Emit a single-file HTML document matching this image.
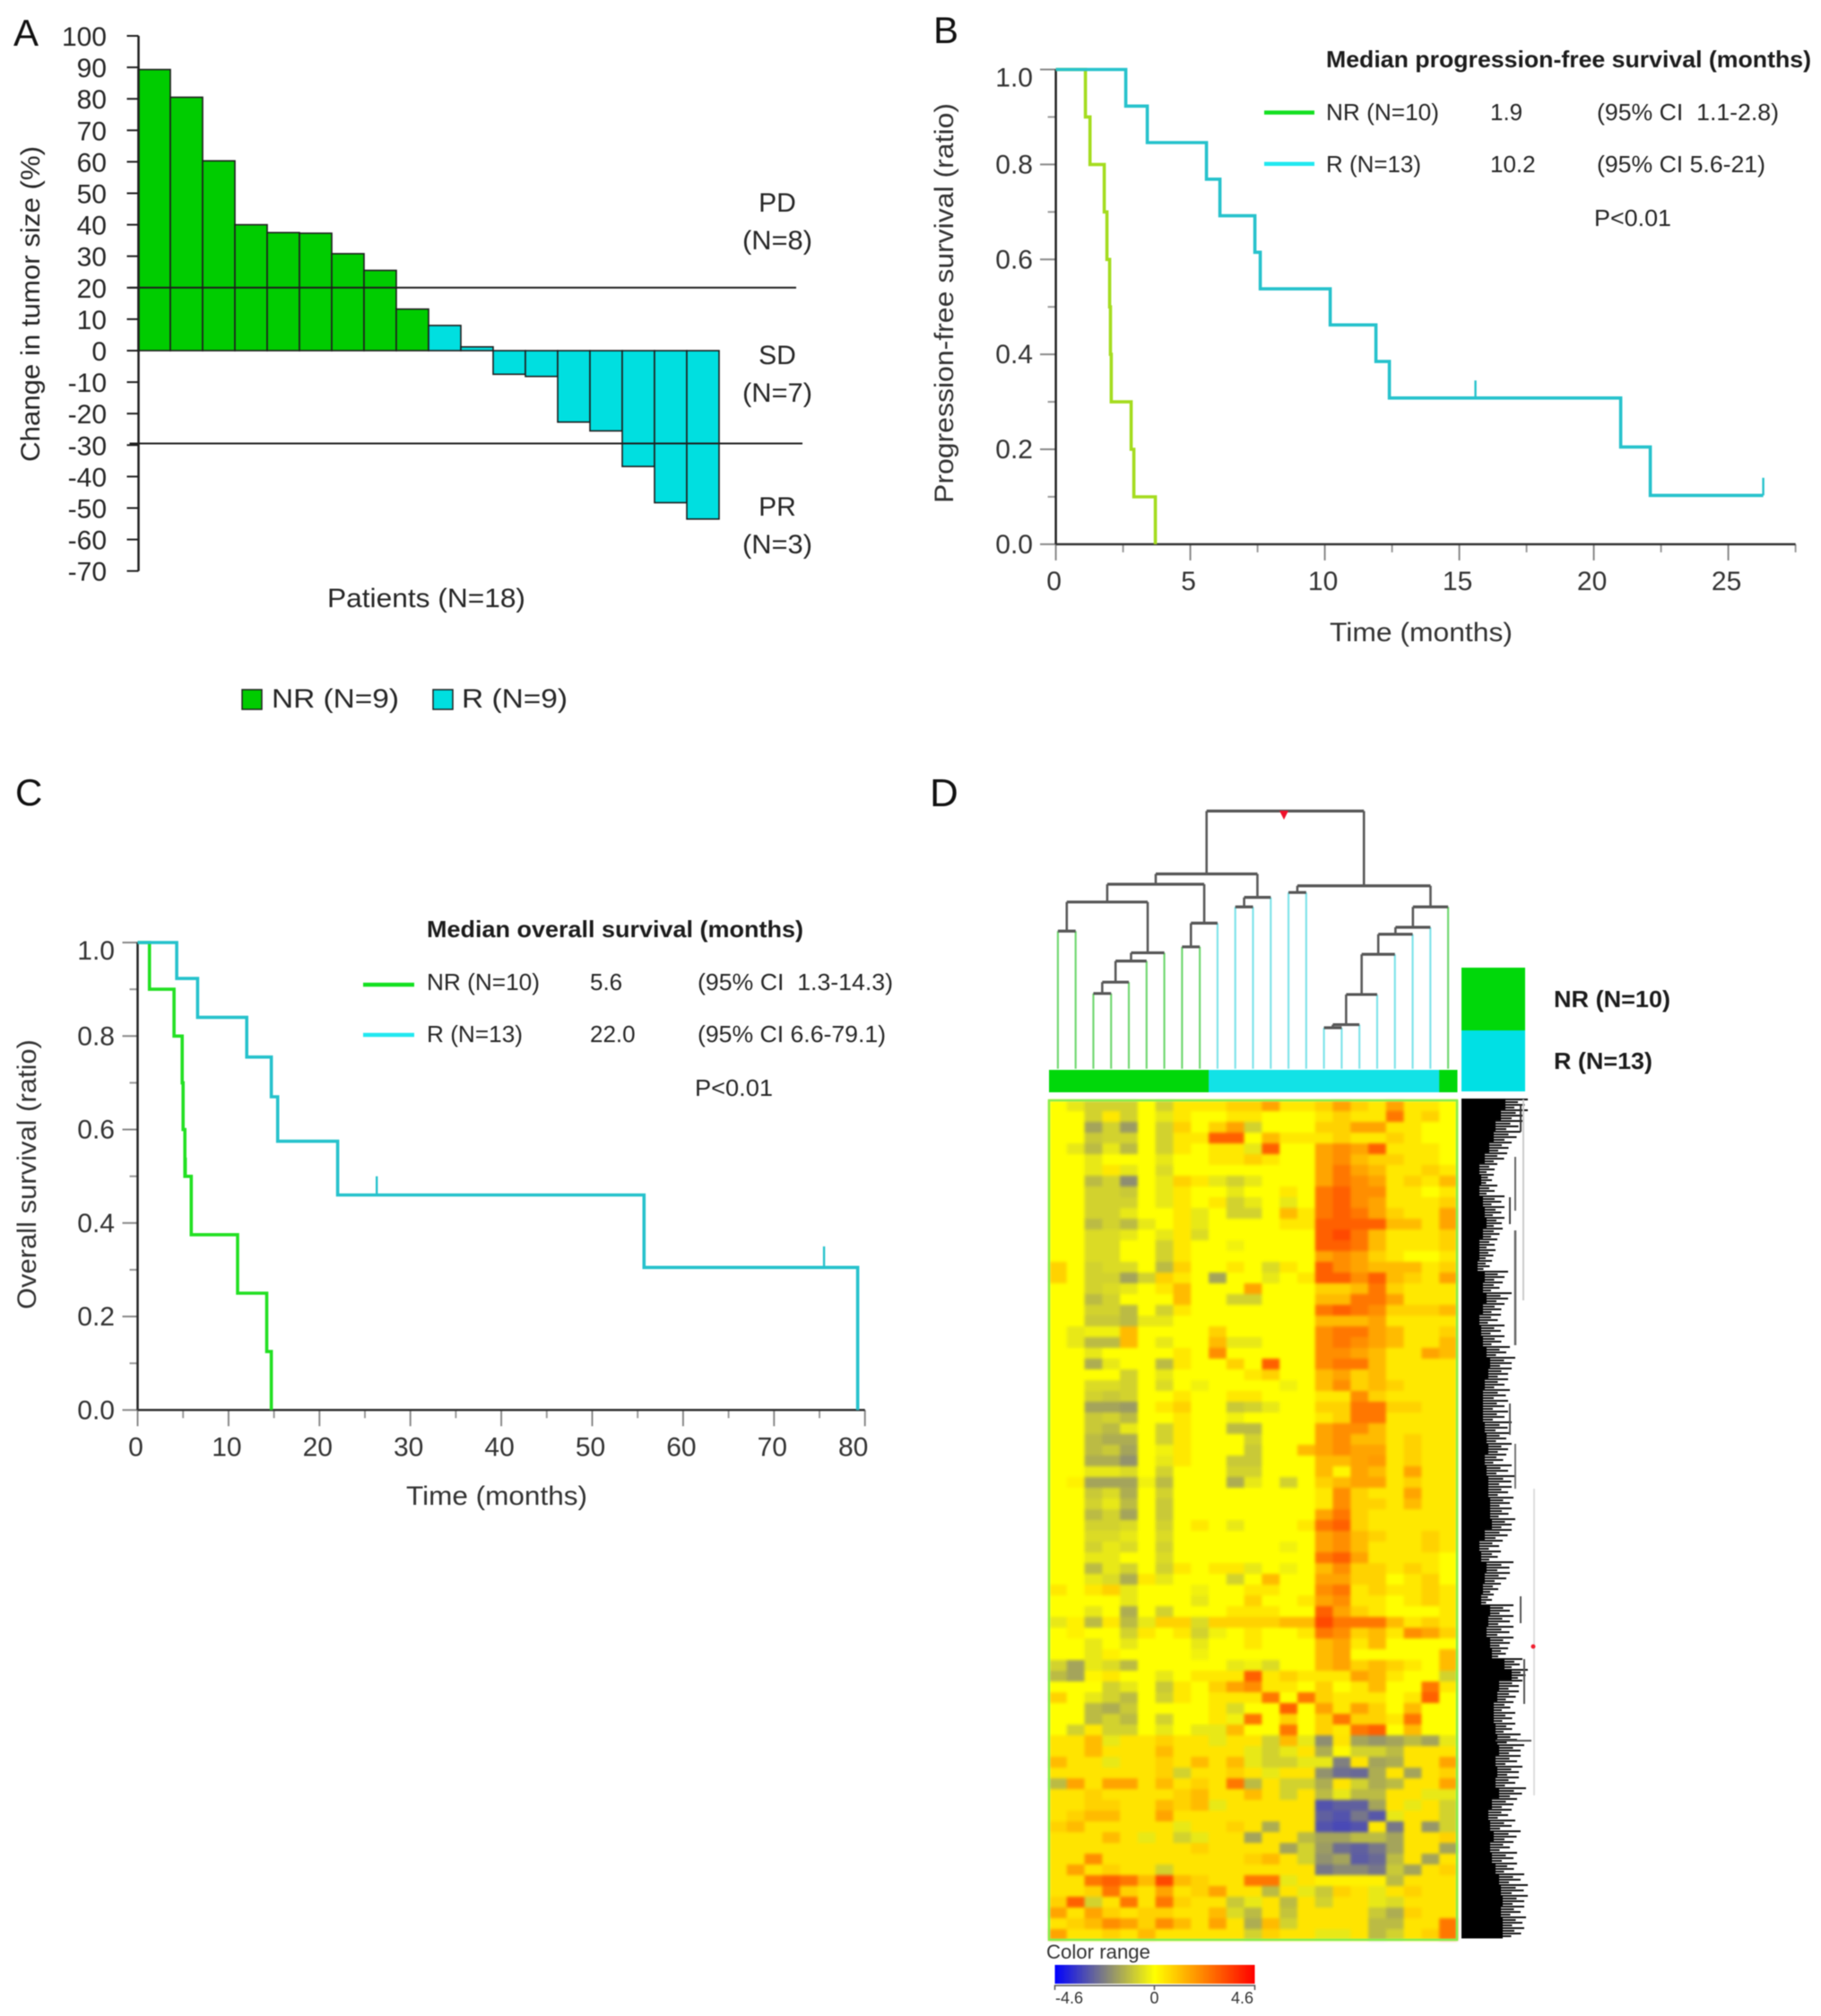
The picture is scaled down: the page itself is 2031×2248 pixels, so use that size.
<!DOCTYPE html>
<html lang="en">
<head>
<meta charset="utf-8">
<title>Tumor response, survival and expression heatmap</title>
<style>
html,body{margin:0;padding:0;background:#fff;width:2031px;height:2248px;overflow:hidden}
svg{display:block;filter:blur(.6px)}
text{font-family:"Liberation Sans",sans-serif;fill:#262626}
.t30{font-size:30px}
.t26{font-size:26px}
.lab{font-size:30px;fill:#333}
.b{font-weight:bold;font-size:26px;fill:#1c1c1c}
.letter{font-size:42px;fill:#111}
#heat{filter:blur(1.5px)}
</style>
</head>
<body>
<svg id="fig" xmlns="http://www.w3.org/2000/svg" width="2031" height="2248" viewBox="0 0 2031 2248">
  <rect width="2031" height="2248" fill="#fff"/>

  <g id="panelA">
    <text class="letter" x="15" y="51">A</text>
    <text class="t30" transform="translate(44,515) rotate(-90)" textLength="352" lengthAdjust="spacingAndGlyphs">Change in tumor size (%)</text>
    <text class="t30" x="365" y="677" textLength="221" lengthAdjust="spacingAndGlyphs">Patients (N=18)</text>
    <text class="t30" x="867" y="236" text-anchor="middle">PD</text>
    <text class="t30" x="867" y="278" text-anchor="middle" textLength="78" lengthAdjust="spacingAndGlyphs">(N=8)</text>
    <text class="t30" x="867" y="406" text-anchor="middle">SD</text>
    <text class="t30" x="867" y="448" text-anchor="middle" textLength="78" lengthAdjust="spacingAndGlyphs">(N=7)</text>
    <text class="t30" x="867" y="575" text-anchor="middle">PR</text>
    <text class="t30" x="867" y="617" text-anchor="middle" textLength="78" lengthAdjust="spacingAndGlyphs">(N=3)</text>
    <rect x="270" y="769" width="22" height="22" fill="#00cc00" stroke="#222" stroke-width="1.5"/>
    <text class="t30" x="303" y="789" textLength="142" lengthAdjust="spacingAndGlyphs">NR (N=9)</text>
    <rect x="483" y="769" width="22" height="22" fill="#00dfe0" stroke="#222" stroke-width="1.5"/>
    <text class="t30" x="515" y="789" textLength="118" lengthAdjust="spacingAndGlyphs">R (N=9)</text>
  </g>

  <g id="panelB">
    <text class="letter" x="1041" y="48">B</text>
    <text class="lab" transform="translate(1063,561) rotate(-90)" textLength="446" lengthAdjust="spacingAndGlyphs">Progression-free survival (ratio)</text>
    <text class="lab" x="1483" y="715" textLength="204" lengthAdjust="spacingAndGlyphs">Time (months)</text>
    <text class="b" x="1479" y="75" textLength="541" lengthAdjust="spacingAndGlyphs">Median progression-free survival (months)</text>
    <line x1="1410" x2="1466" y1="125.5" y2="125.5" stroke="#12e020" stroke-width="4.5"/>
    <text class="t26" x="1479" y="134" textLength="126" lengthAdjust="spacingAndGlyphs">NR (N=10)</text>
    <text class="t26" x="1662" y="134">1.9</text>
    <text class="t26" x="1781" y="134" textLength="203" lengthAdjust="spacingAndGlyphs" xml:space="preserve">(95% CI  1.1-2.8)</text>
    <line x1="1410" x2="1466" y1="182.7" y2="182.7" stroke="#20e8f0" stroke-width="4.5"/>
    <text class="t26" x="1479" y="192" textLength="106" lengthAdjust="spacingAndGlyphs">R (N=13)</text>
    <text class="t26" x="1662" y="192">10.2</text>
    <text class="t26" x="1781" y="192" textLength="188" lengthAdjust="spacingAndGlyphs">(95% CI 5.6-21)</text>
    <text class="t26" x="1778" y="252" textLength="86" lengthAdjust="spacingAndGlyphs">P&lt;0.01</text>
  </g>

  <g id="panelC">
    <text class="letter" x="17" y="898">C</text>
    <text class="lab" transform="translate(40,1460) rotate(-90)" textLength="301" lengthAdjust="spacingAndGlyphs">Overall survival (ratio)</text>
    <text class="lab" x="453" y="1678" textLength="202" lengthAdjust="spacingAndGlyphs">Time (months)</text>
    <text class="b" x="476" y="1045" textLength="420" lengthAdjust="spacingAndGlyphs">Median overall survival (months)</text>
    <line x1="405" x2="462" y1="1098" y2="1098" stroke="#12e020" stroke-width="4.5"/>
    <text class="t26" x="476" y="1104" textLength="126" lengthAdjust="spacingAndGlyphs">NR (N=10)</text>
    <text class="t26" x="658" y="1104">5.6</text>
    <text class="t26" x="778" y="1104" textLength="218" lengthAdjust="spacingAndGlyphs" xml:space="preserve">(95% CI  1.3-14.3)</text>
    <line x1="405" x2="462" y1="1154" y2="1154" stroke="#20e8f0" stroke-width="4.5"/>
    <text class="t26" x="476" y="1162" textLength="107" lengthAdjust="spacingAndGlyphs">R (N=13)</text>
    <text class="t26" x="658" y="1162">22.0</text>
    <text class="t26" x="778" y="1162" textLength="210" lengthAdjust="spacingAndGlyphs">(95% CI 6.6-79.1)</text>
    <text class="t26" x="775" y="1222" textLength="87" lengthAdjust="spacingAndGlyphs">P&lt;0.01</text>
  </g>

  <g id="panelD">
    <text class="letter" x="1037" y="899" style="font-size:44px">D</text>
    <g id="colTree"></g>
    <polygon points="1427,904 1437,904 1432,914" fill="#f0102a"/>
    <g id="classBar"></g>
    <rect x="1630" y="1079" width="71" height="70" fill="#00d80a"/>
    <rect x="1630" y="1149" width="71" height="68" fill="#00e0e4"/>
    <text class="b" x="1733" y="1123" textLength="130" lengthAdjust="spacingAndGlyphs">NR (N=10)</text>
    <text class="b" x="1733" y="1192" textLength="110" lengthAdjust="spacingAndGlyphs">R (N=13)</text>
    <g id="heat"></g>
    <rect x="1170" y="1227" width="455" height="936" fill="none" stroke="#86ee4a" stroke-width="2.5"/>
    <g id="rowTree" shape-rendering="crispEdges"></g>
    <g fill="none">
      <line x1="1699" x2="1699" y1="1226" y2="1450" stroke="#ccc" stroke-width="2"/>
      <line x1="1711" x2="1711" y1="1660" y2="2002" stroke="#ddd" stroke-width="2"/>
      <line x1="1696" x2="1696" y1="1232" y2="1262" stroke="#333" stroke-width="2"/>
      <line x1="1690" x2="1690" y1="1290" y2="1350" stroke="#666" stroke-width="2"/>
      <line x1="1684" x2="1684" y1="1335" y2="1365" stroke="#444" stroke-width="2"/>
      <line x1="1690" x2="1690" y1="1372" y2="1500" stroke="#666" stroke-width="2.5"/>
      <line x1="1684" x2="1684" y1="1565" y2="1600" stroke="#555" stroke-width="2"/>
      <line x1="1690" x2="1690" y1="1610" y2="1660" stroke="#777" stroke-width="2"/>
      <line x1="1696" x2="1696" y1="1780" y2="1810" stroke="#555" stroke-width="2"/>
      <line x1="1700" x2="1700" y1="1850" y2="1900" stroke="#555" stroke-width="2"/>
      <line x1="1668" x2="1708" y1="1941" y2="1941" stroke="#555" stroke-width="2"/>
      <circle cx="1710" cy="1836" r="2.5" fill="#f02030"/>
    </g>
    <defs>
      <linearGradient id="heatGrad" x1="0" x2="1" y1="0" y2="0">
        <stop offset="0" stop-color="#0000ff"/>
        <stop offset=".25" stop-color="#808080"/>
        <stop offset=".5" stop-color="#ffff00"/>
        <stop offset=".75" stop-color="#ff8000"/>
        <stop offset="1" stop-color="#ff0000"/>
      </linearGradient>
    </defs>
    <text x="1167" y="2184" style="font-size:22px;fill:#333" textLength="116" lengthAdjust="spacingAndGlyphs">Color range</text>
    <rect x="1176.5" y="2191" width="223" height="21" fill="url(#heatGrad)"/>
    <path d="M1176.5 2219V2214H1399.5V2219M1287.5 2214V2219" fill="none" stroke="#555" stroke-width="1.5"/>
    <text x="1177" y="2234" style="font-size:18px;fill:#333">-4.6</text>
    <text x="1287.5" y="2234" text-anchor="middle" style="font-size:18px;fill:#333">0</text>
    <text x="1398" y="2234" text-anchor="end" style="font-size:18px;fill:#333">4.6</text>
  </g>
</svg>

<script>
/* ---------- Panel A data ---------- */
const waterfallValues = [89.3,80.5,60.3,40,37.5,37.3,30.8,25.5,13.2,8,1.2,-7.5,-8.2,-22.7,-25.5,-36.8,-48.3,-53.5];
const waterfallGroups = ['NR','NR','NR','NR','NR','NR','NR','NR','NR','R','R','R','R','R','R','R','R','R'];
const waterfallTicks = [100,90,80,70,60,50,40,30,20,10,0,-10,-20,-30,-40,-50,-60,-70];
const thresholdValues = [20,-29.5];

/* ---------- Panel B data ---------- */
const prfNrTimes = [1.1,1.27,1.8,1.9,2.0,2.03,2.06,2.8,2.9,3.7];
const prfNrSurv = [0.9,0.8,0.7,0.6,0.5,0.4,0.3,0.2,0.1,0];
const prfRTimes = [2.6,3.4,5.6,6.1,7.4,7.6,10.2,11.9,12.4,21,22.1,26.3];
const prfRSurv = [0.923,0.846,0.769,0.692,0.615,0.538,0.462,0.385,0.308,0.205,0.103,0.103];
const prfCensorTimes = [15.6,26.3];
const prfCensorLow = [0.308,0.103];
const prfCensorHigh = [0.345,0.14];
const prfXTicks = [0,5,10,15,20,25];

/* ---------- Panel C data ---------- */
const osNrTimes = [1.3,4,4.9,5,5.2,5.9,11,14.2,14.7];
const osNrSurv = [0.9,0.8,0.7,0.6,0.5,0.375,0.25,0.125,0];
const osRTimes = [4.3,6.6,12,14.7,15.4,22,55.7,79.2];
const osRSurv = [0.923,0.84,0.755,0.67,0.575,0.46,0.305,0];
const osCensorTimes = [26.3,75.5];
const osCensorLow = [0.46,0.305];
const osCensorHigh = [0.5,0.35];
const osNrCensorTimes = [5.3];
const osNrCensorLow = [0.5];
const osNrCensorHigh = [0.54];
const osXTicks = [0,10,20,30,40,50,60,70,80];
const survivalTicks = [0,0.2,0.4,0.6,0.8,1];

/* ---------- Panel D data ---------- */
const sampleClasses = ['NR','NR','NR','NR','NR','NR','NR','NR','NR','R','R','R','R','R','R','R','R','R','R','R','R','R','NR'];
/* merge = [childA, childB, height]; children 0-22 are leaves, 23+ are earlier merges */
const treeMerges = [
 [0,1,0.534],[2,3,0.292],[24,4,0.336],[25,5,0.418],[26,6,0.45],[23,27,0.647],
 [7,8,0.473],[29,9,0.565],[28,30,0.716],[10,11,0.628],[32,12,0.665],[31,33,0.756],
 [13,14,0.684],[15,16,0.159],[36,17,0.171],[37,18,0.288],[38,19,0.444],[39,20,0.522],
 [40,21,0.549],[41,22,0.628],[35,42,0.71],[34,43,1]
];
const heatValues = [
[0,-.5,-1,-1,-1,0,-1,.5,.5,.5,1,1,2,.5,.5,1,2,1,.5,2,.5,.5,0],
[0,0,-1,.5,-1,0,-.5,.5,0,0,.5,.5,0,0,0,.5,1,.5,.5,3,.5,1,0],
[0,0,-2,-1,-2.2,0,-1,1,0,1,2,-1,0,0,0,1,1,2,2,.5,.5,0,0],
[0,0,-1.2,-1,-1,0,-1,.5,.5,3.5,3.5,0,1.5,.5,.5,.5,1,.5,.5,1,.5,0,0],
[0,-.5,-1.5,-.5,-1.5,0,-1,.5,0,.5,.5,-.5,3.5,0,0,2,2.5,2,3.5,.5,.5,.5,0],
[0,0,-.5,0,0,0,-.5,0,0,.5,.5,1,.5,0,0,2,2.5,1.5,1,1,.5,.5,0],
[0,0,-.5,.5,-.5,0,-.8,0,0,0,0,0,0,0,0,2,3,2,1.5,.5,.5,1,.5],
[0,0,-1.5,-1,-2.5,0,-.5,1,.5,-.5,-1,-.5,0,0,0,2,3,2.5,2,.5,1,.5,1.5],
[0,0,-1,-1,-1.2,0,-.5,.5,0,0,-.5,0,0,.5,0,3,3.5,2.5,2.5,.5,.5,0,.5],
[0,0,-1,-1,-1,0,-.5,.5,0,.5,-1,-.5,0,-.5,0,3,3.5,2.5,2,.5,.5,.5,1],
[0,0,-1,-1,-.5,0,0,.5,-.5,0,-1,-1,0,1.5,.5,3,3.5,3,2,1,.5,.5,2],
[0,0,-1.5,-1,-1.5,-.5,0,.5,-.5,0,0,0,0,.5,.5,3.5,3.5,3.5,3.5,1.5,1.5,.5,2],
[0,0,-.8,-.8,-.5,0,-.5,.5,-.8,0,0,0,0,0,0,3.5,4,3,1.5,.5,.5,.5,1],
[0,0,-.8,-.8,0,0,-1,.5,0,0,-.3,0,0,0,0,3.5,3.5,3,1.5,.5,.5,.5,1],
[0,0,-.8,-.8,0,0,-1,.5,0,0,0,0,0,0,0,2,2.5,2,1,.5,0,0,.5],
[1,0,-1,-.8,-.8,0,-1.5,1,0,0,.5,0,-.8,.5,0,3.5,2.5,2,1.5,1.5,1.5,.5,1],
[1,0,-1,-1,-2,-1,1,.5,0,-2,0,0,-.5,0,.5,3.5,3.5,2.5,3.5,1.5,1,.5,2],
[0,0,-1,-.8,-.5,0,.5,1.5,0,0,0,2,0,0,0,1,1,1.5,3,1,.5,.5,.5],
[0,0,-1.5,-1,0,0,0,1.5,0,0,-1,-1,0,0,0,1.5,1.5,3,3,2,.5,.5,.5],
[0,0,-1,-1,-1.5,0,-1,.5,0,0,0,0,0,0,0,3,3.5,3,2.5,1,1,1,1.5],
[0,0,-1.2,-1.2,-1.5,-.5,-.5,0,0,0,0,0,0,0,0,1.5,1.5,1.5,2,.5,.5,.5,.5],
[0,-.5,-.3,-.3,1.5,0,0,0,0,1,0,0,0,0,0,2.5,3,3,2,1.5,.5,.5,1],
[0,-.5,-1.5,-1.5,1.5,0,-.5,0,0,1.5,-.5,-.5,0,0,0,2.5,3,2.5,2,1.5,.5,.5,1.5],
[0,0,-.5,0,0,0,0,.5,0,2.5,0,0,0,0,0,2.5,2.5,2,1.5,.5,.5,2,1.5],
[0,0,-1.8,-.5,0,0,-1.5,.5,0,0,1,0,3.5,0,0,2.5,3,3,1.5,.5,.5,.5,.5],
[0,0,0,0,-1,0,-.5,0,0,0,0,.5,1,0,0,1.5,2,1,1.5,.5,.5,.5,.5],
[0,0,-.8,-.8,-1,0,-.8,0,-.3,0,0,0,0,-.3,0,1.5,2.5,1,1.5,1,.5,.5,.5],
[0,0,-1,-1.2,-1,0,0,.5,0,0,.5,.5,0,0,0,.5,.5,2.5,1,.5,.5,.5,.5],
[0,0,-2,-2,-2.2,0,.5,1,0,0,-1.2,-1,-.5,0,0,1,1,3,3,1,1,.5,.5],
[0,0,-1.2,-1,-1.5,0,0,.5,0,0,-.3,0,0,0,0,.5,1,3,3,.5,.5,.5,.5],
[0,0,-1.2,-1.5,-.5,0,-1,.5,0,0,-1.5,-1.5,0,0,0,2,2.5,2.5,1.5,.5,.5,.5,.5],
[0,0,-1.5,-1.8,-1.8,0,-1,.5,0,0,0,-1,0,0,0,2,2.5,1.5,1.5,.5,1,.5,.5],
[0,0,-1.5,-1.2,-2,0,-.3,.5,0,0,0,-1.2,0,0,1.5,2,2.5,2,2,.5,1,.5,.5],
[0,0,-1.8,-1.8,-2.4,0,-.5,.5,0,0,-1.2,-1.2,0,0,0,1.5,1.5,2,2.2,.5,1,.5,.5],
[0,0,-.5,-.5,-.8,0,-1,0,0,0,-1,-1,0,0,0,1.5,.2,2,1.5,.5,2,.5,.5],
[0,.3,-2,-2,-2,-.3,-1.5,0,0,0,-1.8,-.5,0,-1,0,1,1.5,2,2,.5,1,.5,.5],
[0,0,-1.2,-.8,-1.8,0,-1,0,0,0,0,0,0,0,0,.5,2.5,1,.5,.5,2,.5,.5],
[0,0,-1,-.5,-1.5,0,-1.2,0,0,0,0,0,0,0,0,.5,2.5,1,1,.5,1.5,.5,.5],
[0,0,-1.5,-1,-2,0,-1.2,0,0,0,0,0,0,0,0,2,3,1,.5,.5,.5,.5,.5],
[0,0,-1,-1,-.8,0,-1,0,.5,0,-.5,0,0,0,.5,3,3.5,1,.5,.5,.5,.5,.5],
[0,0,-.8,-.8,-.5,0,-.8,0,0,0,0,0,0,0,0,2,2.5,1.5,1,.5,.5,1,.5],
[0,0,-1,-.5,-.8,0,-1,0,0,0,0,0,0,-.3,0,2,2.5,1.5,.5,.5,.5,1,.5],
[0,0,-.5,-.5,0,0,-.8,0,0,0,0,0,0,0,0,3,3.5,2,.5,.5,.5,.5,0],
[0,0,-1.5,-.5,-1,0,-1,.5,0,.5,.5,-.5,0,-.3,0,1.5,2.5,1,1,.5,1,.5,0],
[0,0,-.5,-.8,-1.8,.5,-.5,0,0,0,-1,0,1.5,0,0,2,2,1,1,0,.5,1,0],
[.5,0,.5,1,-.5,0,0,0,-.3,0,0,.5,.5,0,0,2.5,3,.5,1,.5,.5,1,.5],
[0,0,0,0,-.5,0,0,0,-.5,0,0,1,0,0,.5,2,2.5,.5,.5,0,.5,1,.5],
[0,0,-.5,0,-1.8,0,-1,0,0,0,.5,.5,.5,0,0,3.5,2,1,.5,0,0,0,.5],
[-.5,.3,-1.5,.5,-1.5,-.5,1,1,-.8,1,1,1,1,1.5,1.5,4,3,3,3,1.5,.5,1,.5],
[0,.3,0,0,-1,.5,0,.5,-1,-.3,0,.5,0,0,.5,3,2.5,1,1.5,.5,2.5,2,1],
[0,0,-.5,0,-.5,0,0,0,-.5,0,0,.5,0,0,0,1.5,2,.5,1.5,0,0,0,0],
[0,0,-.5,.3,0,0,0,0,-.3,0,0,0,0,0,0,1.5,2,0,0,0,0,0,1.5],
[-1,-2,-.5,-.8,-1.5,0,0,0,0,0,-.5,-.3,-.8,0,0,1.5,2,1,1.5,1,.5,0,1.5],
[-1.5,-2,.2,.5,0,0,-.5,0,.5,.5,.5,3.5,.5,1,.5,.5,.5,2,1.5,.5,0,0,-1],
[0,0,0,-1,-.5,0,-1.2,.5,0,1,2,2.5,.5,.5,0,1,0,.5,1.5,0,0,3,.5],
[1,0,-.5,-1,-1.5,0,-1,.5,0,.5,.5,.5,3,0,3,1,.5,.5,.5,0,.5,3.5,0],
[0,0,-1.5,-1.8,-1.2,0,0,0,0,.5,-.8,0,0,3.5,0,2,.5,2,1,0,1.5,0,0],
[0,0,-1.5,-1,-1.5,0,-1,0,0,.5,-.3,3,0,1,0,1,3,1,1,.5,3,0,0],
[0,-1,.5,-1,-1,0,-.5,0,-.5,-.5,1.5,0,0,3,0,1,.5,3,3.5,0,1.5,0,0],
[.6,.6,1.5,-.5,.6,.6,1,.6,.6,-.5,.6,.6,-1,1.5,-.5,-2.5,.6,-2,-2.3,-2,-1.5,-2,-.5],
[.6,.6,1.5,.6,.6,.6,1.5,.6,.6,.6,.6,-.5,-1,-.5,.6,-1.8,.1,-1,-1,-1.5,.6,.6,.6],
[1.5,.6,.6,-.5,.6,.6,1,.6,1.5,.6,1.5,-.5,-1,-1,-.5,-.5,-2.8,.6,-2,-1.8,.6,.6,2],
[.6,.6,.6,.6,.6,.6,1,-1,.6,.6,1,.6,-.5,.6,.6,-2.4,-3.2,-3.3,-1.8,.6,-2,.6,1],
[-1.5,2,.6,2,2,.6,1.5,.6,1,.6,3,-1.5,.6,-1,-1,-1.8,.6,-1,-1.8,-1.5,.6,.6,2],
[.6,.6,1,.6,.6,.6,.6,1,1.5,.6,.6,1.5,.6,-1,.6,-1.5,-.5,-1.5,-1.5,.6,.6,-.5,-.5],
[.6,.6,1,1,.6,.6,1.5,1,1.5,-.5,.6,.6,.6,.6,.6,-3.8,-3.5,-3.5,-2,.6,-.5,.6,-1],
[.6,1,1.5,1.5,.6,.6,2,.6,.6,.6,.6,.6,.6,.6,.6,-3.5,-3.8,-3,-3.7,-.5,.6,.6,-1],
[1,1.5,.6,.6,.6,.6,.6,-.5,.6,.6,1,.6,-1.8,.6,.6,-3.8,-4,-3.8,.5,-3,.6,-2.3,-1],
[.6,.6,.6,1.5,.6,-.5,.6,-1,-.5,.6,.6,-2,.6,.6,-1.5,-2,-2,-1.5,-1.5,-2,.6,.6,1],
[.6,.6,.6,.6,.6,.6,.6,.6,1,.6,.6,.6,.6,-2,-1,-2.2,-3.2,-3.5,-3,-2,.6,.6,-2],
[.6,.6,2.5,.6,.6,.6,.6,.6,.6,.6,.6,1,1.5,.6,-1,-2.4,-2,-3.6,-3.3,-1.5,.6,-2,.6],
[.6,2,.6,1,.6,.6,-1,.6,.6,.6,.6,.6,.6,.6,.6,-3,-2.6,-2.6,-3,-1.2,-2,.6,1],
[.6,.6,3,3.5,3,1.5,4,1.5,1,.6,.6,3,3,-.5,.6,.3,.3,.3,.3,-1.5,.6,.6,.6],
[.6,.6,1,3,1,.6,2,.6,1,2,.6,.6,-1.5,.6,-.5,-1.2,1,.6,-.5,.6,1,.6,.6],
[1,3.5,-1,.6,3,.6,3,1,.6,.6,-1.2,-.5,.6,-1.5,.6,-1,.6,.6,-.5,-.8,.6,.6,.6],
[2,.6,2,1,.6,1,1,.6,.6,1.5,-.8,-1.5,.6,-1.3,.6,.6,.6,.6,-1.2,-1.8,1,.6,.6],
[.6,1,1.5,2.5,2,1,2.5,1.5,.6,2,.6,-1.8,1.5,-1,.6,.6,.6,.6,-1.5,-1.5,.6,.6,3],
[2,.6,.6,1,.6,1.5,.6,.6,.6,.6,.6,-1,1,.6,.6,-.5,-.5,.6,-1.5,-1,.6,1,3]
];
const rowBranchDepth = [49,44,38,36,31,26,20,22,20,24,26,28,24,20,20,18,26,24,28,24,20,22,24,28,32,30,26,24,24,24,26,28,30,26,28,30,30,32,32,34,26,20,22,28,26,24,22,32,30,28,32,34,48,56,42,40,36,36,38,40,42,38,40,38,42,34,30,32,36,32,34,38,42,44,46,44,46,46];
const rowBranchFringe = [25,30,30,30,25,25,20,14,20,24,22,20,22,20,18,16,26,22,28,24,24,26,24,26,28,26,26,30,28,28,30,26,26,24,28,30,26,26,24,26,30,26,22,30,28,20,14,26,28,30,26,18,20,18,26,24,22,24,22,26,28,28,28,26,30,28,26,28,30,26,28,24,28,30,28,26,26,24];

/* ---------- Helpers ---------- */
const NS = 'http://www.w3.org/2000/svg';
function mk(parent, tag, attrs, txt){
  const el = document.createElementNS(NS, tag);
  for (const k in attrs) el.setAttribute(k, attrs[k]);
  if (txt !== undefined) el.textContent = txt;
  parent.appendChild(el);
  return el;
}
function stepPath(xs, ys, times, surv){
  let d = 'M' + xs(0) + ' ' + ys(1);
  times.forEach((t, i) => { d += 'H' + xs(t).toFixed(1) + 'V' + ys(surv[i]).toFixed(1); });
  return d;
}
const panelA = document.getElementById('panelA');
const panelB = document.getElementById('panelB');
const panelC = document.getElementById('panelC');

/* ---------- Panel A ---------- */
const xA = i => 154.5 + 36 * i;
const yA = v => 391 - 3.51 * v;
waterfallValues.forEach((v, i) => {
  const el = mk(panelA, 'rect', {x:xA(i) - .5, y:Math.min(yA(v), yA(0)), width:36, height:Math.abs(yA(v) - yA(0)),
    fill: waterfallGroups[i] === 'NR' ? '#00cc00' : '#00dfe0', stroke:'#1e1e1e', 'stroke-width':1.6});
  
  
});
{
  const ax = mk(panelA, 'line', {x1:xA(0), x2:xA(0), y1:yA(100), y2:yA(-70), stroke:'#1e1e1e', 'stroke-width':2.5});
  
  
}
waterfallTicks.forEach(v => {
  const t = mk(panelA, 'line', {x1:141.5, x2:xA(0), y1:yA(v), y2:yA(v), stroke:'#1e1e1e', 'stroke-width':2});
  
  
  const l = mk(panelA, 'text', {x:119, y:yA(v) + 11, 'text-anchor':'end', class:'t30'}, String(v));
  
  
});
thresholdValues.forEach((v, i) => {
  const el = mk(panelA, 'line', {x1:xA(0) - 10, x2: i === 0 ? 888 : 895, y1:yA(v), y2:yA(v), stroke:'#1e1e1e', 'stroke-width':2});
  
  
});

/* ---------- Survival axes ---------- */
function survivalAxes(parent, xs, ys, xTicks, xMax, labelRight, tickLeft, minorStep, suffix){
  for (let v = 0.1; v < 1; v += 0.2) {
    const m = mk(parent, 'line', {x1:xs(0) - 9, x2:xs(0), y1:ys(v), y2:ys(v), stroke:'#999', 'stroke-width':2});
    
    
  }
  survivalTicks.forEach(v => {
    const t = mk(parent, 'line', {x1:tickLeft, x2:xs(0), y1:ys(v), y2:ys(v), stroke:'#888', 'stroke-width':2});
    
    
    const l = mk(parent, 'text', {x:labelRight, y:ys(v) + 10 + (v === 1 ? 9 : 0), 'text-anchor':'end', class:'lab'}, v.toFixed(1));
    
    
  });
  xTicks.forEach((v, i) => {
    const t = mk(parent, 'line', {x1:xs(v), x2:xs(v), y1:ys(0), y2:ys(0) + 18, stroke:'#888', 'stroke-width':2});
    
    
    if (v + minorStep <= xMax) {
      const m = mk(parent, 'line', {x1:xs(v + minorStep), x2:xs(v + minorStep), y1:ys(0), y2:ys(0) + 9, stroke:'#999', 'stroke-width':2});
      
      
    }
    const shift = (suffix === 'c' && i === xTicks.length - 1) ? -13 : -2;
    const l = mk(parent, 'text', {x:xs(v) + shift, y:ys(0) + 51, 'text-anchor':'middle', class:'lab'}, String(v));
    
    
  });
  const ya = mk(parent, 'line', {x1:xs(0), x2:xs(0), y1:ys(1), y2:ys(0), stroke:'#222', 'stroke-width':2.5});
  
  
  const xa = mk(parent, 'line', {x1:xs(0), x2:xs(xMax), y1:ys(0), y2:ys(0), stroke:'#333', 'stroke-width':2.5});
  
  
}
function censorMarks(parent, xs, ys, times, low, high, color, suffix){
  times.forEach((t, i) => {
    const c = mk(parent, 'line', {x1:xs(t), x2:xs(t), y1:ys(low[i]), y2:ys(high[i]), stroke:color, 'stroke-width':2.4});
    
    
  });
}

/* ---------- Panel B ---------- */
const xB = t => 1177.6 + 30 * t;
const yB = s => 606.9 - 529.4 * s;
survivalAxes(panelB, xB, yB, prfXTicks, 27.5, 1152, 1160, 2.5, 'b');
{
  const p = mk(panelB, 'path', {d:stepPath(xB, yB, prfNrTimes, prfNrSurv), fill:'none', stroke:'#a4dc1e', 'stroke-width':3.6});
  
  
  const q = mk(panelB, 'path', {d:stepPath(xB, yB, prfRTimes, prfRSurv), fill:'none', stroke:'#26c2cc', 'stroke-width':3.6});
  
  
}
censorMarks(panelB, xB, yB, prfCensorTimes, prfCensorLow, prfCensorHigh, '#26c2cc', 'b');

/* ---------- Panel C ---------- */
const xC = t => 153.5 + 10.14 * t;
const yC = s => 1572.3 - 521.3 * s;
survivalAxes(panelC, xC, yC, osXTicks, 80, 128, 136.5, 5, 'c');
{
  const p = mk(panelC, 'path', {d:stepPath(xC, yC, osNrTimes, osNrSurv), fill:'none', stroke:'#22e022', 'stroke-width':3.6});
  
  
  const q = mk(panelC, 'path', {d:stepPath(xC, yC, osRTimes, osRSurv), fill:'none', stroke:'#26c2cc', 'stroke-width':3.6});
  
  
}
censorMarks(panelC, xC, yC, osCensorTimes, osCensorLow, osCensorHigh, '#26c2cc', 'c');
censorMarks(panelC, xC, yC, osNrCensorTimes, osNrCensorLow, osNrCensorHigh, '#22e022', 'c-nr');

/* ---------- Panel D: column dendrogram and class bar ---------- */
const cellW = 455 / 23;
const colX = k => 1170 + cellW * (k + 0.5);
const treeY = h => 1191.7 - 287.3 * h;
const colTree = document.getElementById('colTree');
const classBar = document.getElementById('classBar');
const treeNodes = [];
sampleClasses.forEach((c, k) => { treeNodes[k] = {x:colX(k), h:0}; });
treeMerges.forEach((m, i) => {
  const a = treeNodes[m[0]], b = treeNodes[m[1]];
  treeNodes[23 + i] = {x:(a.x + b.x) / 2, h:m[2]};
  [[m[0], a], [m[1], b]].forEach(pair => {
    const isLeaf = pair[0] < 23;
    const colour = isLeaf ? (sampleClasses[pair[0]] === 'NR' ? '#72d872' : '#80e4ea') : '#5a5a5a';
    const v = mk(colTree, 'line', {x1:pair[1].x, x2:pair[1].x, y1:treeY(pair[1].h), y2:treeY(m[2]), stroke:colour, 'stroke-width':isLeaf ? 2.2 : 2.6});
    
    
  });
  const h = mk(colTree, 'line', {x1:a.x, x2:b.x, y1:treeY(m[2]), y2:treeY(m[2]), stroke:'#555', 'stroke-width':3.2});
  
  
});
sampleClasses.forEach((c, k) => {
  const r = mk(classBar, 'rect', {x:1170 + cellW * k, y:1193, width:cellW + .5, height:25, fill:c === 'NR' ? '#00d80a' : '#12e2e6'});
  
  
});

/* ---------- Panel D: heatmap ---------- */
const heatStops = [[-4.6,[0,0,255]],[-2.3,[128,128,128]],[0,[255,255,0]],[2.3,[255,128,0]],[4.6,[255,0,0]]];
const heatGain = 0.82;
function heatColor(raw){
  const v = raw * heatGain;
  for (let i = 0; i < heatStops.length - 1; i++) {
    const a = heatStops[i], b = heatStops[i + 1];
    if (v <= b[0]) {
      const t = Math.max(0, (v - a[0]) / (b[0] - a[0]));
      return 'rgb(' + a[1].map((c, j) => Math.round(c + (b[1][j] - c) * t)).join(',') + ')';
    }
  }
  return 'rgb(255,0,0)';
}
const heat = document.getElementById('heat');
const heatRowH = 936 / heatValues.length;
heatValues.forEach((row, r) => {
  row.forEach((v, c) => {
    const cell = mk(heat, 'rect', {x:(1170 + cellW * c).toFixed(2), y:(1227 + heatRowH * r).toFixed(2), width:(cellW + .5).toFixed(2), height:(heatRowH + .5).toFixed(2), fill:heatColor(v)});
    
    
  });
});

/* ---------- Panel D: row dendrogram ---------- */
const rowTree = document.getElementById('rowTree');
rowBranchDepth.forEach((w, r) => {
  const y = 1225 + 12 * r;
  const body = mk(rowTree, 'rect', {x:1630, y:y, width:w, height:12.5, fill:'#000'});
  
  
  [1, 0.55, 0.85, 0.4].forEach((share, n) => {
    const bar = mk(rowTree, 'rect', {x:1630 + w, y:y + n * 3, width:rowBranchFringe[r] * share, height:2, fill:'#111'});
    
    
  });
});
</script>
</body>
</html>
